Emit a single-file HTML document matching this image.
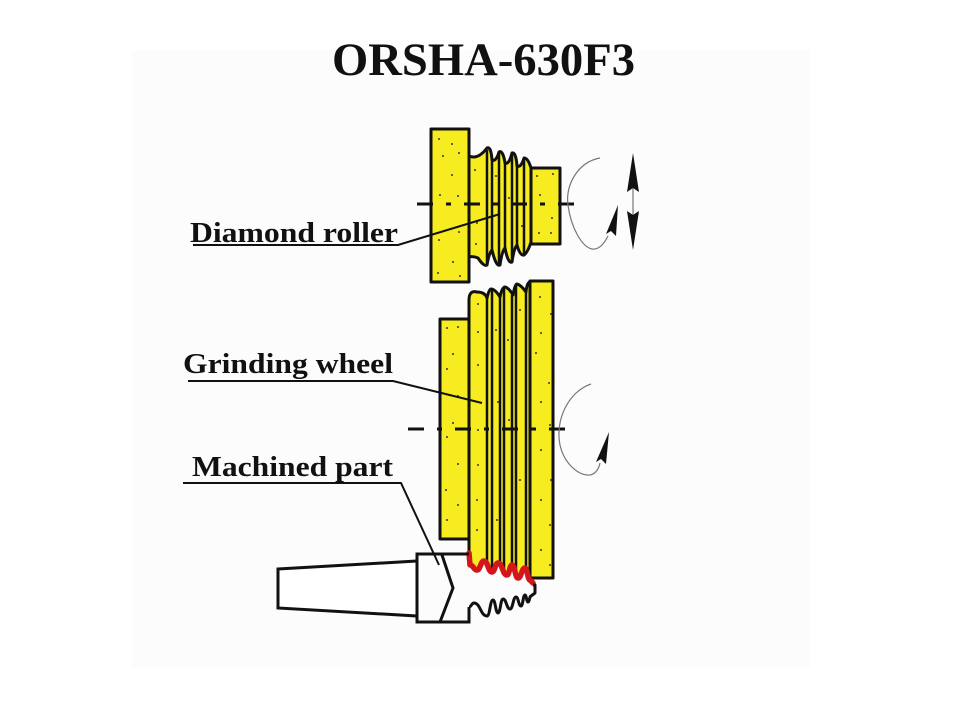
<!DOCTYPE html>
<html>
<head>
<meta charset="utf-8">
<style>
html,body{margin:0;padding:0;background:#fff;}
svg{display:block;}
text{font-family:"Liberation Serif","Times New Roman",serif;font-weight:bold;fill:#111;}
</style>
</head>
<body>
<svg width="960" height="720" viewBox="0 0 960 720" xmlns="http://www.w3.org/2000/svg">
<rect x="0" y="0" width="960" height="720" fill="#ffffff"/>
<rect x="132" y="50" width="678" height="618" fill="#fcfcfc"/>

<!-- Title -->
<text x="332" y="75" font-size="47" textLength="303" lengthAdjust="spacingAndGlyphs">ORSHA-630F3</text>

<g stroke="#111" stroke-width="3" stroke-linejoin="round" fill="#f6ec1f">
  <!-- Diamond roller -->
  <rect x="431" y="129" width="38" height="153"/>
  <path d="M469,156 Q478,160 487,148 Q491,146 492,160 Q496,162 499,152 Q503,150 505,163 Q509,165 512,153 Q516,152 517,166 Q521,168 524,158 Q528,158 531,168 L531,242 Q528,252 524,255 Q520,256 517,245 Q514,248 512,262 Q508,264 505,248 Q502,251 500,265 Q496,267 492,250 Q489,253 487,265 Q484,267 478,258 Q473,256 469,257 Z"/>
  <rect x="531" y="168" width="29" height="76"/>
  <!-- Grinding wheel -->
  <rect x="440" y="319" width="29" height="220"/>
  <path d="M469,300 Q469,290 477,292 Q485,292 487,298 Q489,289 491,289 Q495,289 500,297 Q502,287 505,287 Q509,288 513,295 Q515,284 517,284 Q521,285 526,292 Q527,282 530,282 L530,580 C527.5,580 527.5,568 525,568 C521.5,568 521.5,578 518,578 C515,578 515,565 512,565 C509.5,565 509.5,575 507,575 C502.5,575 502.5,563 498,563 C495,563 495,572 492,572 C488,572 488,561 484,561 C480.5,561 480.5,570 477,570 C473.5,570 473.5,565 470,565 L469,553 Z"/>
  <rect x="530" y="281" width="23" height="297"/>
</g>

<!-- inner lines diamond roller -->
<g stroke="#111" stroke-width="2.5">
  <line x1="487" y1="150" x2="487" y2="263"/>
  <line x1="492" y1="160" x2="492" y2="250"/>
  <line x1="499" y1="153" x2="499" y2="264"/>
  <line x1="505" y1="163" x2="505" y2="248"/>
  <line x1="512" y1="154" x2="512" y2="261"/>
  <line x1="517" y1="166" x2="517" y2="245"/>
  <line x1="524" y1="159" x2="524" y2="254"/>
</g>
<!-- inner lines grinding wheel -->
<g stroke="#111" stroke-width="2.5">
  <line x1="487" y1="298" x2="487" y2="565"/>
  <line x1="492" y1="290" x2="492" y2="571"/>
  <line x1="500" y1="297" x2="500" y2="567"/>
  <line x1="504" y1="288" x2="504" y2="573"/>
  <line x1="512" y1="295" x2="512" y2="566"/>
  <line x1="516" y1="285" x2="516" y2="575"/>
  <line x1="526" y1="292" x2="526" y2="571"/>
</g>

<!-- dots -->
<g fill="#333">
  <circle cx="439" cy="139" r="1"/><circle cx="452" cy="144" r="1"/><circle cx="443" cy="156" r="1"/>
  <circle cx="459" cy="153" r="1"/><circle cx="452" cy="175" r="1"/><circle cx="440" cy="195" r="1"/>
  <circle cx="458" cy="196" r="1"/><circle cx="459" cy="232" r="1"/><circle cx="439" cy="240" r="1"/>
  <circle cx="453" cy="262" r="1"/><circle cx="438" cy="273" r="1"/><circle cx="460" cy="276" r="1"/>
  <circle cx="475" cy="170" r="1"/><circle cx="477" cy="223" r="1"/><circle cx="476" cy="244" r="1"/>
  <circle cx="496" cy="176" r="1"/><circle cx="509" cy="198" r="1"/><circle cx="522" cy="226" r="1"/>
  <circle cx="537" cy="176" r="1"/><circle cx="553" cy="174" r="1"/><circle cx="540" cy="195" r="1"/>
  <circle cx="552" cy="218" r="1"/><circle cx="539" cy="233" r="1"/><circle cx="551" cy="233" r="1"/>
  <circle cx="447" cy="328" r="1"/><circle cx="458" cy="327" r="1"/><circle cx="453" cy="354" r="1"/>
  <circle cx="447" cy="369" r="1"/><circle cx="458" cy="396" r="1"/><circle cx="453" cy="423" r="1"/>
  <circle cx="447" cy="437" r="1"/><circle cx="458" cy="464" r="1"/><circle cx="446" cy="490" r="1"/>
  <circle cx="458" cy="505" r="1"/><circle cx="447" cy="520" r="1"/>
  <circle cx="478" cy="304" r="1"/><circle cx="478" cy="332" r="1"/><circle cx="478" cy="365" r="1"/>
  <circle cx="478" cy="430" r="1"/><circle cx="478" cy="465" r="1"/><circle cx="477" cy="500" r="1"/>
  <circle cx="477" cy="530" r="1"/><circle cx="496" cy="330" r="1"/><circle cx="498" cy="402" r="1"/>
  <circle cx="508" cy="340" r="1"/><circle cx="509" cy="420" r="1"/><circle cx="520" cy="310" r="1"/>
  <circle cx="520" cy="480" r="1"/><circle cx="497" cy="520" r="1"/>
  <circle cx="540" cy="297" r="1"/><circle cx="551" cy="314" r="1"/><circle cx="541" cy="333" r="1"/>
  <circle cx="536" cy="353" r="1"/><circle cx="549" cy="383" r="1"/><circle cx="541" cy="402" r="1"/>
  <circle cx="550" cy="425" r="1"/><circle cx="541" cy="450" r="1"/><circle cx="551" cy="480" r="1"/>
  <circle cx="541" cy="500" r="1"/><circle cx="550" cy="525" r="1"/><circle cx="541" cy="550" r="1"/>
  <circle cx="550" cy="565" r="1"/>
</g>

<!-- center lines -->
<g stroke="#111" stroke-width="3" fill="none">
  <line x1="417" y1="204" x2="577" y2="204" stroke-dasharray="16 13 5 13"/>
  <line x1="408" y1="429" x2="577" y2="429" stroke-dasharray="16 13 5 13"/>
</g>

<!-- red wave -->
<path d="M469,553 L470,565 C473.5,565 473.5,570 477,570 C480.5,570 480.5,561 484,561 C488,561 488,572 492,572 C495,572 495,563 498,563 C502.5,563 502.5,575 507,575 C509.5,575 509.5,565 512,565 C515,565 515,578 518,578 C521.5,578 521.5,568 525,568 C527.5,568 527.5,580 530,580 L533,583" fill="none" stroke="#d2161c" stroke-width="5.5" stroke-linecap="round" stroke-linejoin="round"/>

<!-- Machined part -->
<g stroke="#111" stroke-width="3" fill="none" stroke-linejoin="miter">
  <polygon points="278,569 417,561 417,616 278,608" fill="#fff"/>
  <path d="M469,554 L417,554 L417,622 L469,622 L469,607"/>
  <path d="M442,555 L453,588 L440,622"/>
  <path stroke-linejoin="round" d="M469,607 C471.5,607 471.5,603 474,603 C480.5,603 480.5,616 487,616 C490,616 490,600 493,600 C495.5,600 495.5,613 498,613 C500.5,613 500.5,599 503,599 C506.5,599 506.5,609 510,609 C513,609 513,597 516,597 C518.5,597 518.5,606 521,606 C523,606 523,595 525,595 C526.5,595 526.5,602 528,602 C529.5,602 529.5,596 531,596 L535,593 L535,585 L533,585"/>
</g>

<!-- rotation arrows -->
<g fill="none" stroke="#777" stroke-width="1.2">
  <path d="M600,158 C578,162 565,185 568,205 C571,228 582,247 592,249 C599,250 604,244 608,236"/>
  <path d="M591,384 C568,392 555,420 560,445 C564,463 578,476 590,475 C596,474 599,468 600,463"/>
  <line x1="633" y1="188" x2="633" y2="215"/>
</g>
<g fill="#111">
  <polygon points="618,205 606,234 611,231 616,236"/>
  <polygon points="609,432 596,462 601,459 606,464"/>
  <polygon points="633,153 627,192 633,188 639,192"/>
  <polygon points="633,250 627,211 633,215 639,211"/>
</g>

<!-- leaders -->
<g stroke="#111" stroke-width="2" fill="none">
  <path d="M193,245 L398,245 L500,214"/>
  <path d="M188,381 L393,381 L482,403"/>
  <path d="M183,483 L401,483 L439,565"/>
</g>

<!-- labels -->
<text x="190" y="242" font-size="29" textLength="208" lengthAdjust="spacingAndGlyphs">Diamond roller</text>
<text x="183" y="373" font-size="29" textLength="210" lengthAdjust="spacingAndGlyphs">Grinding wheel</text>
<text x="192" y="476" font-size="29" textLength="201" lengthAdjust="spacingAndGlyphs">Machined part</text>
</svg>
</body>
</html>
